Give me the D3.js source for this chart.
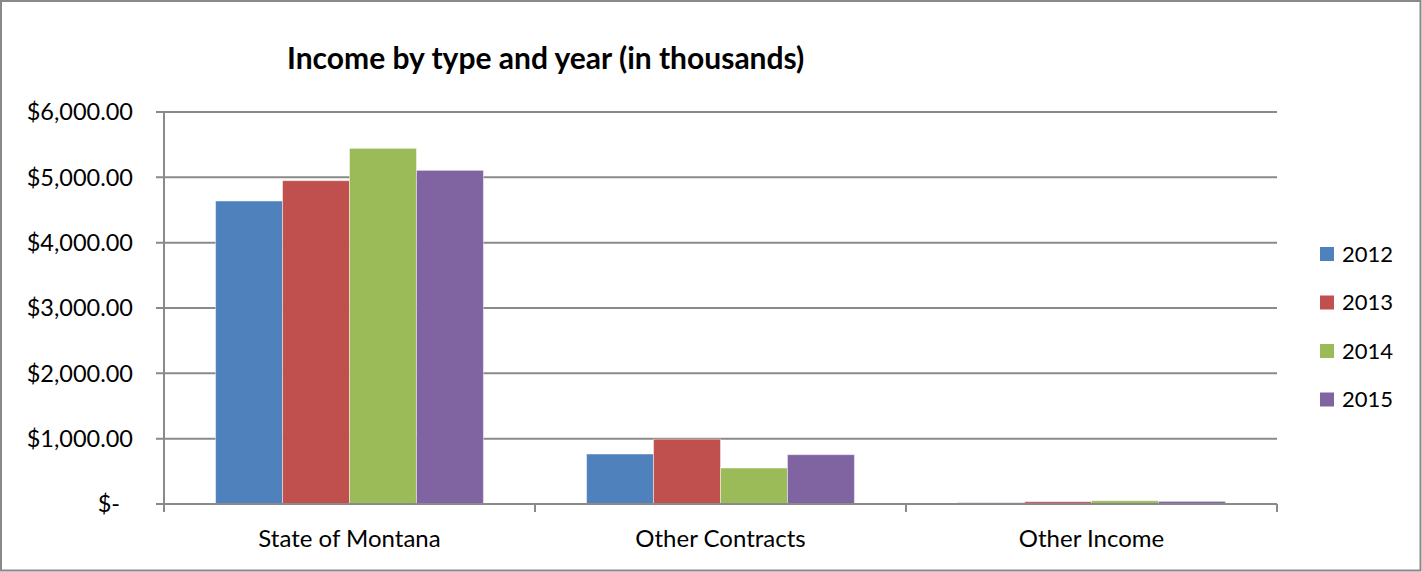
<!DOCTYPE html>
<html>
<head>
<meta charset="utf-8">
<script src="https://cdn.jsdelivr.net/npm/d3@7"></script>
<style>
  html, body { margin: 0; padding: 0; background: #fff; }
  svg { display: block; }
  text { font-family: Lato, "Open Sans", sans-serif; fill: #000; }
</style>
</head>
<body>
<svg id="chart" width="1422" height="572"></svg>
<script>
const categories = ["State of Montana", "Other Contracts", "Other Income"];
const years = ["2012", "2013", "2014", "2015"];
const values2012 = [4638, 765, 20];
const values2013 = [4949, 992, 35];
const values2014 = [5444, 551, 50];
const values2015 = [5107, 755, 40];
const yTicks = [0, 1000, 2000, 3000, 4000, 5000, 6000];
const colors = ["#4F81BD", "#C0504D", "#9BBB59", "#8064A2"];
const titleText = "Income by type and year (in thousands)";

const seriesValues = [values2012, values2013, values2014, values2015];

const svg = d3.select("#chart");
const W = 1422, H = 572;
const plot = { left: 164, right: 1277, top: 112, bottom: 504 };

// outer border
svg.append("rect").attr("x", 1).attr("y", 1).attr("width", W - 2.5).attr("height", H - 2.5)
  .attr("fill", "#fff").attr("stroke", "#898989").attr("stroke-width", 2);

const y = d3.scaleLinear().domain([0, 6000]).range([plot.bottom, plot.top]);
const x0 = d3.scaleBand().domain(categories).range([plot.left, plot.right]).paddingInner(0).paddingOuter(0);
const x1 = d3.scaleBand().domain(years).range([0, x0.bandwidth()]).paddingOuter(0.77).paddingInner(0);

// gridlines
svg.append("g").selectAll("line").data(yTicks).join("line")
  .attr("x1", plot.left - 8).attr("x2", plot.right)
  .attr("y1", d => y(d)).attr("y2", d => y(d))
  .attr("stroke", "#8a8a8a").attr("stroke-width", 2);

// y axis labels
const fmt = d => d === 0 ? "$-" : "$" + d3.format(",.2f")(d);
svg.append("g").selectAll("text").data(yTicks).join("text")
  .attr("x", d => d === 0 ? 120 : 133)
  .attr("y", d => y(d))
  .attr("dy", "0.36em")
  .attr("text-anchor", "end")
  .attr("font-size", 23.5)
  .text(fmt);

// bars
const data = [];
categories.forEach((c, ci) => years.forEach((yr, si) => data.push({ c, yr, si, v: seriesValues[si][ci] })));
svg.append("g").selectAll("rect").data(data).join("rect")
  .attr("x", d => x0(d.c) + x1(d.yr))
  .attr("y", d => y(d.v))
  .attr("width", x1.bandwidth())
  .attr("height", d => y(0) - y(d.v))
  .attr("fill", d => colors[d.si])
  .attr("stroke", "rgba(255,255,255,0.45)")
  .attr("stroke-width", 1);

// y axis line
svg.append("line").attr("x1", plot.left).attr("x2", plot.left)
  .attr("y1", plot.top).attr("y2", plot.bottom)
  .attr("stroke", "#8a8a8a").attr("stroke-width", 2);
// x axis line
svg.append("line").attr("x1", plot.left).attr("x2", plot.right)
  .attr("y1", plot.bottom).attr("y2", plot.bottom)
  .attr("stroke", "#8a8a8a").attr("stroke-width", 2);
// x ticks at category boundaries
const bounds = categories.map(c => x0(c)).concat([plot.right]);
svg.append("g").selectAll("line").data(bounds).join("line")
  .attr("x1", d => d).attr("x2", d => d)
  .attr("y1", plot.bottom).attr("y2", plot.bottom + 8)
  .attr("stroke", "#8a8a8a").attr("stroke-width", 2);

// x labels
svg.append("g").selectAll("text").data(categories).join("text")
  .attr("x", d => x0(d) + x0.bandwidth() / 2)
  .attr("y", 547)
  .attr("text-anchor", "middle")
  .attr("font-size", 24)
  .text(d => d);

// title
svg.append("text").attr("x", 287).attr("y", 69)
  .attr("font-size", 30).attr("font-weight", "bold")
  .text(titleText);

// legend
const lg = svg.append("g").selectAll("g").data(years).join("g")
  .attr("transform", (d, i) => `translate(1320, ${254 + i * 48.5})`);
lg.append("rect").attr("x", 0).attr("y", -7).attr("width", 14).attr("height", 14)
  .attr("fill", (d, i) => colors[i]);
lg.append("text").attr("x", 22).attr("y", 0).attr("dy", "0.36em")
  .attr("font-size", 22).text(d => d);
</script>
</body>
</html>
